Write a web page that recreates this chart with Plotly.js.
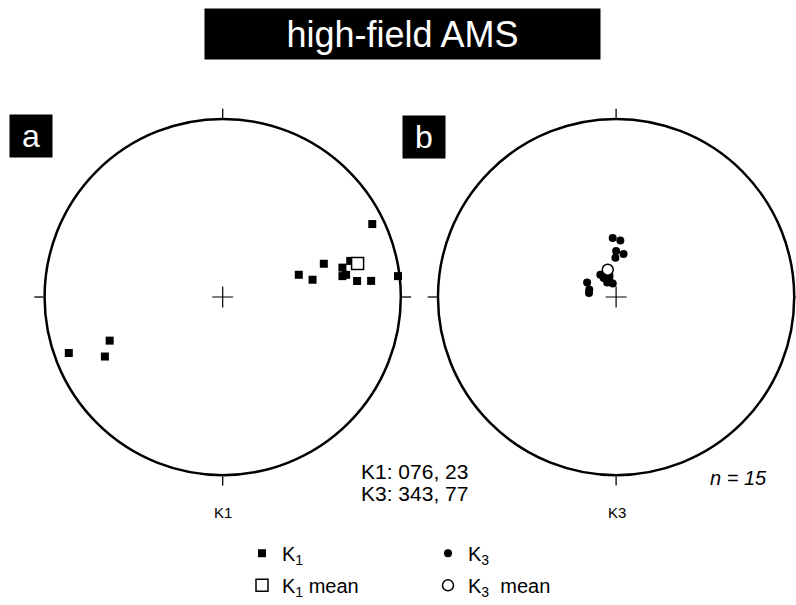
<!DOCTYPE html>
<html>
<head>
<meta charset="utf-8">
<script src="https://cdn.plot.ly/plotly-3.0.1.min.js"></script>
<style>html,body{margin:0;padding:0;background:#fff;overflow:hidden;}</style>
</head>
<body>
<div id="chart" style="width:796px;height:605px;"></div>
<script>
// K1 (maximum susceptibility axes): declination / inclination in degrees
const k1Dec = [64.0, 71.8, 73.7, 79.1, 76.2, 74.2, 80.1, 79.8, 83.2, 83.8, 83.2, 250.0, 248.9, 243.2, 76.0];
const k1Inc = [7.3, 40.0, 53.3, 47.4, 31.4, 26.5, 32.3, 30.3, 25.0, 17.3, 1.0, 8.9, 32.5, 26.8, 24.4];
// K3 (minimum susceptibility axes)
const k3Dec = [356.7, 4.3, 0.0, 9.8, 359.0, 324.6, 342.7, 328.7, 346.0, 296.7, 285.5, 278.7, 338.7, 343.1, 327.0];
const k3Inc = [62.8, 64.0, 69.0, 70.0, 72.1, 77.6, 79.9, 82.2, 83.7, 75.2, 77.3, 77.5, 81.7, 76.6, 79.6];
// Mean directions
const k1MeanDec = [76], k1MeanInc = [23];
const k3MeanDec = [343], k3MeanInc = [77];
const nSamples = 15;

// Lambert equal-area (lower hemisphere) radial distance, 1 = primitive circle
const eqArea = inc => inc.map(i => Math.SQRT2 * Math.sin((90 - i) / 2 * Math.PI / 180));

const W = 796, H = 605;
const fx = p => p / W, fy = p => 1 - p / H;
const FONT = 'Liberation Sans, Arial, Helvetica, sans-serif';

const traces = [
  {type:'scatterpolar', subplot:'polar', mode:'markers', r:[0], theta:[0], showlegend:false, cliponaxis:false,
   marker:{symbol:'cross-thin-open', size:15, color:'black', line:{width:1.2, color:'black'}}},
  {type:'scatterpolar', subplot:'polar2', mode:'markers', r:[0], theta:[0], showlegend:false, cliponaxis:false,
   marker:{symbol:'cross-thin-open', size:15, color:'black', line:{width:1.2, color:'black'}}},
  {type:'scatterpolar', subplot:'polar', mode:'markers', name:'K<sub>1</sub>', legend:'legend', legendgroup:'a1',
   r:eqArea(k1Inc), theta:k1Dec, cliponaxis:false,
   marker:{symbol:'square', size:8, color:'black', line:{width:0}}},
  {type:'scatterpolar', subplot:'polar', mode:'markers', name:'K<sub>1</sub> mean', legend:'legend', legendgroup:'a2',
   r:eqArea(k1MeanInc), theta:k1MeanDec, cliponaxis:false,
   marker:{symbol:'square', size:12, color:'white', line:{width:1.5, color:'black'}}},
  {type:'scatterpolar', subplot:'polar2', mode:'markers', name:'K<sub>3</sub>', legend:'legend2', legendgroup:'b1',
   r:eqArea(k3Inc), theta:k3Dec, cliponaxis:false,
   marker:{symbol:'circle', size:8, color:'black', line:{width:0}}},
  {type:'scatterpolar', subplot:'polar2', mode:'markers', name:'K<sub>3</sub>  mean', legend:'legend2', legendgroup:'b2',
   r:eqArea(k3MeanInc), theta:k3MeanDec, cliponaxis:false,
   marker:{symbol:'circle', size:11, color:'white', line:{width:1.5, color:'black'}}}
];

const angAxis = {
  direction:'clockwise', rotation:90, showgrid:false, showline:true,
  linecolor:'black', linewidth:2.5, ticks:'outside', ticklen:9, tickwidth:1.3, tickcolor:'black',
  tickmode:'array', tickvals:[0,90,180,270], showticklabels:false
};
const radAxis = {visible:false, range:[0,1]};

const ann = (text, x, y, size, extra) => Object.assign({
  text, x:fx(x), y:fy(y), xref:'paper', yref:'paper', showarrow:false,
  xanchor:'center', yanchor:'middle', font:{family:FONT, size, color:'black'}
}, extra || {});

const layout = {
  width:W, height:H, margin:{l:0, r:0, t:0, b:0},
  paper_bgcolor:'white', plot_bgcolor:'white',
  font:{family:FONT, color:'black'},
  polar:{domain:{x:[fx(42.2), fx(403.2)], y:[fy(481.5), fy(120.5)]}, bgcolor:'white',
         angularaxis:angAxis, radialaxis:radAxis},
  polar2:{domain:{x:[fx(436.2), 1], y:[fy(481.5), fy(120.5)]}, bgcolor:'white',
          angularaxis:angAxis, radialaxis:radAxis},
  legend:{x:fx(242), y:fy(541), xanchor:'left', yanchor:'top', orientation:'v',
          traceorder:'grouped', tracegroupgap:3, borderwidth:0, bgcolor:'rgba(0,0,0,0)',
          font:{family:FONT, size:20, color:'black'}},
  legend2:{x:fx(428), y:fy(541), xanchor:'left', yanchor:'top', orientation:'v',
          traceorder:'grouped', tracegroupgap:3, borderwidth:0, bgcolor:'rgba(0,0,0,0)',
          font:{family:FONT, size:20, color:'black'}},
  annotations:[
    ann('high-field AMS', 402.5, 34, 36, {font:{family:FONT, size:36, color:'white'},
        bgcolor:'black', width:395, height:50, borderpad:0}),
    ann('a', 31, 138, 32, {font:{family:FONT, size:32, color:'white'},
        bgcolor:'black', width:42, height:42, borderpad:0}),
    ann('b', 424.5, 138.5, 32, {font:{family:FONT, size:32, color:'white'},
        bgcolor:'black', width:42, height:42, borderpad:0}),
    ann('K1', 222.7, 519, 15),
    ann('K3', 616.7, 519, 15),
    ann('K1: ' + String(k1MeanDec[0]).padStart(3,'0') + ', ' + k1MeanInc[0], 359, 478, 21, {xanchor:'left'}),
    ann('K3: ' + String(k3MeanDec[0]).padStart(3,'0') + ', ' + k3MeanInc[0], 359, 500.5, 21, {xanchor:'left'}),
    ann('<i>n = ' + nSamples + '</i>', 708, 484, 20, {xanchor:'left'})
  ]
};

Plotly.newPlot('chart', traces, layout, {staticPlot:true, displayModeBar:false});
</script>
</body>
</html>
